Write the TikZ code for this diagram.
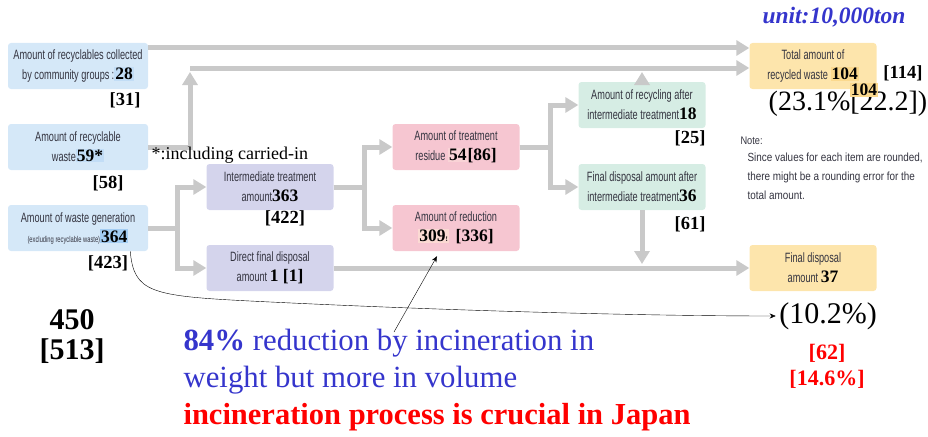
\documentclass[tikz,border=0pt]{standalone}
\usepackage{fontspec}
\setmainfont{Liberation Serif}
\newfontfamily\boxfont[FakeStretch=0.68]{Liberation Sans}
\newfontfamily\notefont[FakeStretch=0.84]{Liberation Sans}
\usetikzlibrary{arrows.meta}
\definecolor{boxblue}{HTML}{D5E8F8}
\definecolor{hlblue}{HTML}{C2DDF6}
\definecolor{hlbluedeep}{HTML}{A3CDF3}
\definecolor{boxlav}{HTML}{D4D4EC}
\definecolor{boxpink}{HTML}{F6C6D1}
\definecolor{hlpink}{HTML}{F9D3D6}
\definecolor{hlpeach}{HTML}{FBDAD3}
\definecolor{boxmint}{HTML}{D6EDE4}
\definecolor{boxorange}{HTML}{FDE5AC}
\definecolor{hlorange}{HTML}{FBD98E}
\definecolor{flowgray}{HTML}{C9C9C9}
\definecolor{boxtext}{HTML}{33333F}
\definecolor{noteblue}{HTML}{3535CC}
\definecolor{notered}{HTML}{FF0000}
\newcommand\bnum[1]{{\fontsize{17.5}{17.5}\selectfont\rmfamily\bfseries\color{black}#1}}
\newcommand\hlnum[2]{{\setlength{\fboxsep}{1pt}\colorbox{#1}{\bnum{#2}}}}
\begin{document}
\begin{tikzpicture}[x=1pt,y=-1pt,
  box/.style={rounded corners=3pt,minimum height=46pt,minimum width=#1,align=center,inner sep=1pt,text=boxtext,font=\boxfont\fontsize{13.5}{20}\selectfont},
  box/.default=127pt,
  flow/.style={draw=flowgray,line width=5pt,-{Triangle[length=13pt,width=15pt]}},
  tag/.style={font=\fontsize{18.5}{18.5}\selectfont\bfseries},
  pointer/.style={black,thin,-{Stealth[length=6pt,width=5pt]}}]
\useasboundingbox (0,0) rectangle (928,436);

% source boxes
\node [box=140pt,fill=boxblue] (collected) at (78,66) {Amount of recyclables collected\\ by community groups\,:\hlnum{hlblue}{28}};
\node [box=140pt,fill=boxblue] (recyclable) at (78,147) {Amount of recyclable\\ waste\hlnum{hlblue}{59*}};
\node [box=140pt,fill=boxblue] (generation) at (78,228) {Amount of waste generation\\ {\fontsize{8.5}{8.5}\selectfont(excluding recyclable waste)}\hlnum{hlbluedeep}{364}};

% treatment boxes
\node [box,fill=boxlav] (intermediate) at (270,187) {Intermediate treatment\\ amount\bnum{363}};
\node [box,fill=boxlav] (direct) at (270,268) {Direct final disposal\\ amount \bnum{1 [1]}};
\node [box,fill=boxpink] (residue) at (456,147) {Amount of treatment\\ residue \hlnum{hlpink}{54}\bnum{[86]}};
\node [box,fill=boxpink] (reduction) at (456,228) {Amount of reduction\\ \hlnum{hlpeach}{309{\fontsize{7}{7}\selectfont!}}\enspace\bnum{[336]}};
\node [box,fill=boxmint] (recycling) at (642,105) {Amount of recycling after\\ intermediate treatment\bnum{18}};
\node [box,fill=boxmint] (afterdisp) at (642,187) {Final disposal amount after\\ intermediate treatment\bnum{36}};

% result boxes
\node [box,fill=boxorange] (totalrec) at (813,66) {Total amount of\\ recycled waste \hlnum{hlorange}{104}};
\node [box,fill=boxorange] (finaldisp) at (813,268) {Final disposal\\ amount \bnum{37}};

% flows
\coordinate (merge) at (190,68);
\draw [flow] ([yshift=18pt]collected.east) -- ([yshift=18pt]collected.east -| totalrec.west);
\draw [flow] (merge) -- (merge -| totalrec.west);
\draw [flow] (recyclable.east) -| ([yshift=-4pt]merge);
\draw [flow] (recycling.north) -- ([yshift=-4pt]recycling.north |- merge);
\draw [flow] (generation.east) -- ++(29,0) |- (intermediate.west);
\draw [flow] (generation.east) -- ++(29,0) |- (direct.west);
\draw [flow] (intermediate.east) -- ++(31,0) |- (residue.west);
\draw [flow] (intermediate.east) -- ++(31,0) |- (reduction.west);
\draw [flow] (residue.east) -- ++(31,0) |- (recycling.west);
\draw [flow] (residue.east) -- ++(31,0) |- (afterdisp.west);
\draw [flow] (direct.east) -- (finaldisp.west);
\draw [flow] (afterdisp.south) -- ([yshift=4pt]afterdisp.south |- finaldisp.west);

% figures in brackets
\node [tag] (c31) at (125,100) {[31]};
\node [tag] (c58) at (108,183) {[58]};
\node [tag] (c423) at (108,263) {[423]};
\node [tag] (c422) at (285,218) {[422]};
\node [tag] (c25) at (690,138) {[25]};
\node [tag] (c61) at (690,224) {[61]};
\node [tag] (c114) at (903,73) {[114]};
\node [font=\fontsize{18}{18}\selectfont,anchor=west] (carried) at (148,155) {*:including carried-in};
\node [font=\fontsize{23.5}{23.5}\selectfont\bfseries\itshape,text=noteblue] (unit) at (834,17) {unit:10,000ton};

% shares
\node [font=\fontsize{28}{28}\selectfont] (recshare) at (848,104) {(23.1\%[22.2])};
\node [inner sep=0pt] (rec104) at (864,90) {\hlnum{hlorange}{104}};
\node [font=\fontsize{30}{30}\selectfont] (dispshare) at (828,316) {(10.2\%)};
\node [font=\fontsize{22}{22}\selectfont\bfseries,text=notered] (d62) at (827,353) {[62]};
\node [font=\fontsize{22}{22}\selectfont\bfseries,text=notered] (d146) at (827,379) {[14.6\%]};

% note
\node [anchor=west,text=boxtext,font=\notefont\fontsize{11}{11}\selectfont] (note) at (737,141) {Note:};
\node [anchor=north west,align=left,text=boxtext,font=\notefont\fontsize{11.8}{19}\selectfont] (notebody) at (744,149) {Since values for each item are rounded,\\ there might be a rounding error for the\\ total amount.};

% totals and remarks
\node [font=\fontsize{30}{30}\selectfont\bfseries,align=center] (total) at (72,337) {450\\ {[}513{]}};
\node [font=\fontsize{30.8}{30.8}\selectfont,anchor=west,text=noteblue] (remark1) at (180,343) {\textbf{84\%} reduction by incineration in};
\node [font=\fontsize{30.8}{30.8}\selectfont,anchor=west,text=noteblue] (remark2) at (180,380) {weight but more in volume};
\node [font=\fontsize{30.5}{30.5}\selectfont\bfseries,anchor=west,text=notered] (remark3) at (180,417) {incineration process is crucial in Japan};

% pointers
\coordinate (by) at (394,332);
\draw [pointer] (by) -- ([xshift=-19pt,yshift=-5pt]reduction.south);
\draw [pointer] ([xshift=-18pt]generation.south east) .. controls (134,292) and (150,296) .. (250,301) .. controls (450,311) and (650,316) .. (dispshare.west);
\end{tikzpicture}
\end{document}
